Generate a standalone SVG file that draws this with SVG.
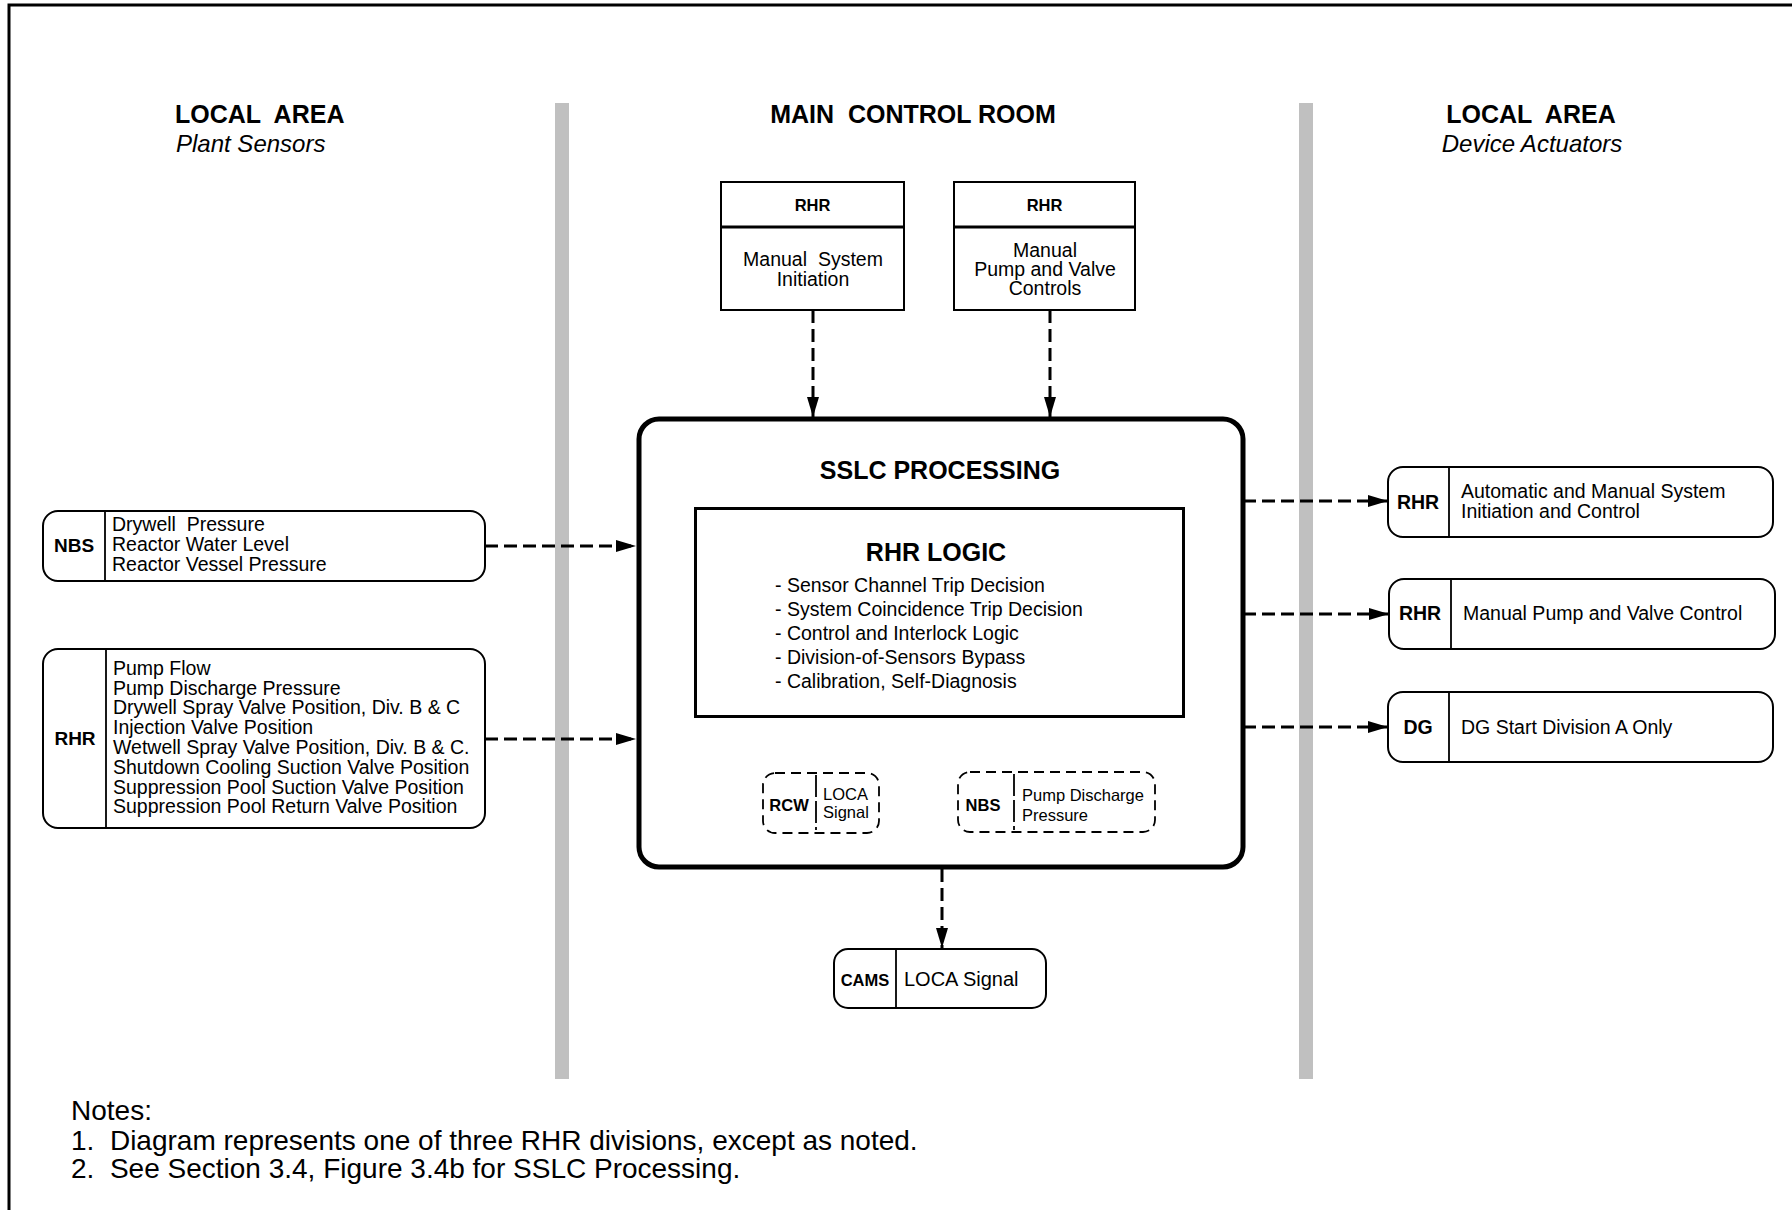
<svg xmlns="http://www.w3.org/2000/svg" width="1792" height="1210" viewBox="0 0 1792 1210">
<defs>
<style>
.t{font-family:"Liberation Sans",Arial,Helvetica,sans-serif;fill:#000}
.b{font-weight:bold}
.i{font-style:italic}
.s195{font-size:19.5px}
.s165{font-size:16.5px}
.box{fill:#fff;stroke:#000;stroke-width:2}
.dbox{fill:none;stroke:#000;stroke-width:1.8;stroke-dasharray:10 6}
.div{stroke:#000;stroke-width:1.8}
.conn{fill:none;stroke:#000;stroke-width:3;stroke-dasharray:13 6;marker-end:url(#ah)}
.bar{fill:#c0c0c0}
</style>
<marker id="ah" markerUnits="userSpaceOnUse" markerWidth="20" markerHeight="12" refX="20" refY="6" orient="auto">
<path d="M0,0 L20,6 L0,12 z" fill="#000"/>
</marker>
</defs>
<rect x="0" y="0" width="1792" height="1210" fill="#fff"/>
<path d="M9,1210 V5 H1792" fill="none" stroke="#000" stroke-width="3"/>
<rect class="bar" x="555" y="103" width="14" height="976"/>
<rect class="bar" x="1299" y="103" width="14" height="976"/>

<g id="headers">
<text class="t b" x="175" y="123" font-size="25" xml:space="preserve">LOCAL  AREA</text>
<text class="t i" x="176" y="152" font-size="24">Plant Sensors</text>
<text class="t b" x="913" y="123" font-size="25" text-anchor="middle" xml:space="preserve">MAIN  CONTROL ROOM</text>
<text class="t b" x="1531" y="123" font-size="25" text-anchor="middle" xml:space="preserve">LOCAL  AREA</text>
<text class="t i" x="1532" y="152" font-size="24" text-anchor="middle">Device Actuators</text>
</g>

<g id="connectors">
<line class="conn" x1="813" y1="310" x2="813" y2="417"/>
<line class="conn" x1="1050" y1="310" x2="1050" y2="417"/>
<line class="conn" x1="485" y1="546" x2="636" y2="546"/>
<line class="conn" x1="485" y1="739" x2="636" y2="739"/>
<line class="conn" x1="1243" y1="501" x2="1388" y2="501"/>
<line class="conn" x1="1243" y1="614" x2="1389" y2="614"/>
<line class="conn" x1="1243" y1="727" x2="1388" y2="727"/>
<line class="conn" x1="823" y1="718" x2="823" y2="772"/>
<line class="conn" x1="1054" y1="718" x2="1054" y2="771"/>
<line class="conn" x1="942" y1="869" x2="942" y2="948"/>
</g>

<g id="node-rhr-manual-init">
<rect class="box" x="721" y="182" width="183" height="128"/>
<line x1="721" y1="227" x2="904" y2="227" stroke="#000" stroke-width="3"/>
<text class="t b s165" x="812.5" y="211" text-anchor="middle">RHR</text>
<text class="t s195" x="813" y="266" text-anchor="middle" xml:space="preserve">Manual  System</text>
<text class="t s195" x="813" y="286" text-anchor="middle">Initiation</text>
</g>

<g id="node-rhr-manual-pump">
<rect class="box" x="954" y="182" width="181" height="128"/>
<line x1="954" y1="227" x2="1135" y2="227" stroke="#000" stroke-width="3"/>
<text class="t b s165" x="1044.5" y="211" text-anchor="middle">RHR</text>
<text class="t s195" x="1045" y="257" text-anchor="middle">Manual</text>
<text class="t s195" x="1045" y="276" text-anchor="middle">Pump and Valve</text>
<text class="t s195" x="1045" y="295" text-anchor="middle">Controls</text>
</g>

<g id="node-sslc">
<rect x="639" y="419" width="604" height="448" rx="20" fill="#fff" stroke="#000" stroke-width="5"/>
<text class="t b" x="940" y="479" font-size="25" text-anchor="middle">SSLC PROCESSING</text>
</g>

<g id="node-rhr-logic">
<rect x="695.5" y="508.5" width="488" height="208" fill="#fff" stroke="#000" stroke-width="3"/>
<text class="t b" x="936" y="561" font-size="25" text-anchor="middle">RHR LOGIC</text>
<text class="t s195" x="775" y="592">- Sensor Channel Trip Decision</text>
<text class="t s195" x="775" y="616">- System Coincidence Trip Decision</text>
<text class="t s195" x="775" y="640">- Control and Interlock Logic</text>
<text class="t s195" x="775" y="664">- Division-of-Sensors Bypass</text>
<text class="t s195" x="775" y="688">- Calibration, Self-Diagnosis</text>
</g>

<g id="node-rcw">
<rect class="dbox" x="763" y="773" width="116" height="60" rx="12"/>
<line class="div" x1="816" y1="775" x2="816" y2="830" stroke-dasharray="22 4"/>
<text class="t b s165" x="789" y="811" text-anchor="middle">RCW</text>
<text class="t s165" x="823" y="800">LOCA</text>
<text class="t s165" x="823" y="818">Signal</text>
</g>

<g id="node-nbs-small">
<rect class="dbox" x="958" y="772" width="197" height="60" rx="12"/>
<line class="div" x1="1014" y1="774" x2="1014" y2="830" stroke-dasharray="22 4"/>
<text class="t b s165" x="983" y="811" text-anchor="middle">NBS</text>
<text class="t s165" x="1022" y="801">Pump Discharge</text>
<text class="t s165" x="1022" y="821">Pressure</text>
</g>

<g id="node-cams">
<rect class="box" x="834" y="949" width="212" height="59" rx="14"/>
<line class="div" x1="896" y1="949" x2="896" y2="1008"/>
<text class="t b s165" x="865" y="986" text-anchor="middle">CAMS</text>
<text class="t" x="904" y="986" font-size="20">LOCA Signal</text>
</g>

<g id="node-nbs">
<rect class="box" x="43" y="511" width="442" height="70" rx="15"/>
<line class="div" x1="105" y1="511" x2="105" y2="581"/>
<text class="t b" x="74" y="552" font-size="19" text-anchor="middle">NBS</text>
<text class="t s195" x="112" y="531" xml:space="preserve">Drywell  Pressure</text>
<text class="t s195" x="112" y="551">Reactor Water Level</text>
<text class="t s195" x="112" y="571">Reactor Vessel Pressure</text>
</g>

<g id="node-rhr-sensors">
<rect class="box" x="43" y="649" width="442" height="179" rx="15"/>
<line class="div" x1="106" y1="649" x2="106" y2="828"/>
<text class="t b" x="75" y="745" font-size="19" text-anchor="middle">RHR</text>
<text class="t s195" x="113" y="675">Pump Flow</text>
<text class="t s195" x="113" y="695">Pump Discharge Pressure</text>
<text class="t s195" x="113" y="714">Drywell Spray Valve Position, Div. B &amp; C</text>
<text class="t s195" x="113" y="734">Injection Valve Position</text>
<text class="t s195" x="113" y="754">Wetwell Spray Valve Position, Div. B &amp; C.</text>
<text class="t s195" x="113" y="774">Shutdown Cooling Suction Valve Position</text>
<text class="t s195" x="113" y="794">Suppression Pool Suction Valve Position</text>
<text class="t s195" x="113" y="813">Suppression Pool Return Valve Position</text>
</g>

<g id="node-rhr-auto">
<rect class="box" x="1388" y="467" width="385" height="70" rx="15"/>
<line class="div" x1="1449" y1="467" x2="1449" y2="537"/>
<text class="t b s195" x="1418" y="509" text-anchor="middle">RHR</text>
<text class="t s195" x="1461" y="498">Automatic and Manual System</text>
<text class="t s195" x="1461" y="518">Initiation and Control</text>
</g>

<g id="node-rhr-pump">
<rect class="box" x="1389" y="579" width="386" height="70" rx="15"/>
<line class="div" x1="1451" y1="579" x2="1451" y2="649"/>
<text class="t b s195" x="1420" y="620" text-anchor="middle">RHR</text>
<text class="t s195" x="1463" y="620">Manual Pump and Valve Control</text>
</g>

<g id="node-dg">
<rect class="box" x="1388" y="692" width="385" height="70" rx="15"/>
<line class="div" x1="1449" y1="692" x2="1449" y2="762"/>
<text class="t b s195" x="1418" y="734" text-anchor="middle">DG</text>
<text class="t s195" x="1461" y="734">DG Start Division A Only</text>
</g>

<g id="notes">
<text class="t" x="71" y="1120" font-size="28">Notes:</text>
<text class="t" x="71" y="1150" font-size="28" xml:space="preserve">1.  Diagram represents one of three RHR divisions, except as noted.</text>
<text class="t" x="71" y="1178" font-size="28" xml:space="preserve">2.  See Section 3.4, Figure 3.4b for SSLC Processing.</text>
</g>
</svg>
